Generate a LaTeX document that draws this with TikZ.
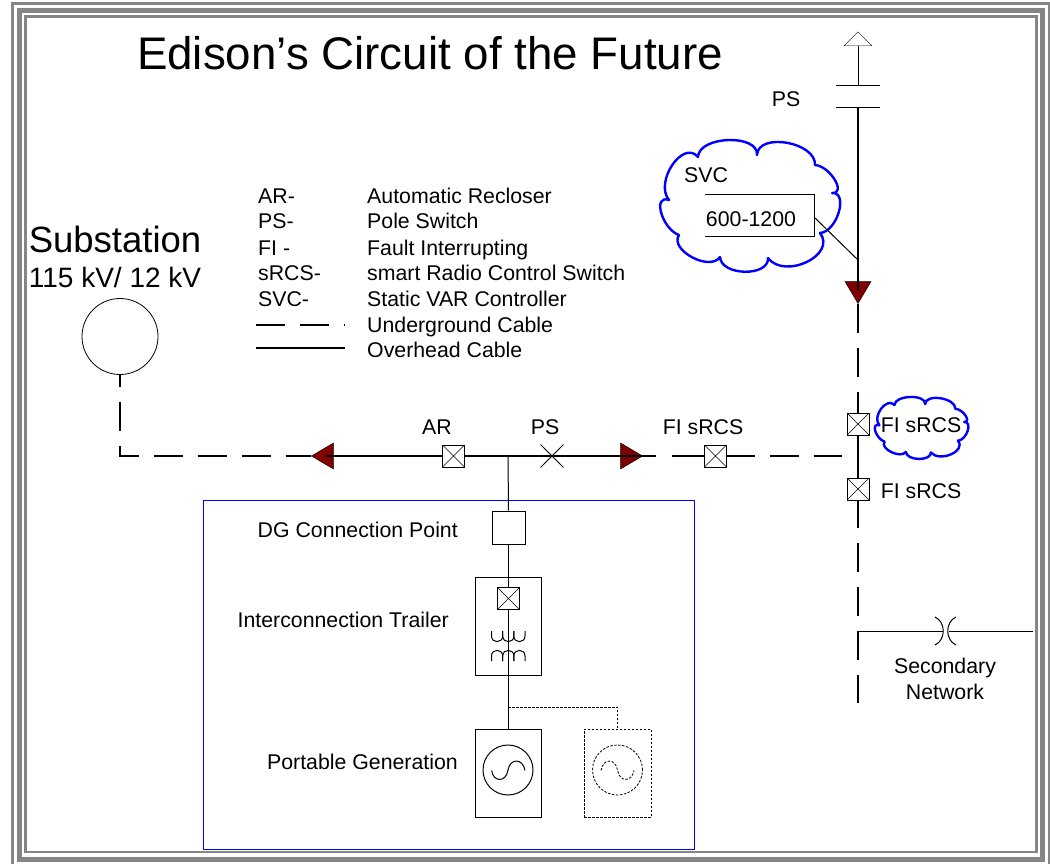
\documentclass[tikz,border=0pt]{standalone}
\usepackage{fontspec}
\setmainfont{Liberation Sans}
\usetikzlibrary{shapes.geometric,shapes.misc}

\definecolor{framegray}{HTML}{858585}
\definecolor{tipred}{HTML}{7F0000}

\tikzset{
  label20/.style={inner sep=0pt, font=\fontsize{21.3}{21.3}\selectfont},
  hvcable/.style={line width=2pt},
  ugcable/.style={line width=2pt, dash pattern=on 29pt off 15pt},
  thincable/.style={line width=1pt},
  xbox/.style={draw, thick, fill=white, minimum size=22pt, inner sep=0pt,
    path picture={
      \draw [thin] (path picture bounding box.north west) -- (path picture bounding box.south east);
      \draw [thin] (path picture bounding box.north east) -- (path picture bounding box.south west);
    }},
  plainbox/.style={draw, line width=1pt, fill=white, inner sep=0pt},
  redtip/.style={isosceles triangle, isosceles triangle apex angle=61, isosceles triangle stretches,
    draw=black, fill=tipred, inner sep=0pt, minimum height=22pt, minimum width=26pt},
  dashline/.style={line width=.8pt, dash pattern=on 2.5pt off 1.5pt},
  pics/bluecloud/.style={code={
    \draw [blue, line width=2.4pt, fill=white, line join=round]
      (-52,-49) .. controls (-51.3,-70.3) and (8.7,-72.3) .. (7,-51)
      .. controls (8,-74) and (66,-64) .. (65,-41)
      .. controls (80,-40) and (97,-12) .. (82,-13)
      .. controls (99,-14) and (87,26) .. (70,27)
      .. controls (87,49) and (35,74) .. (18,52)
      .. controls (19,71) and (-29,70) .. (-30,51)
      .. controls (-40,66) and (-81,44) .. (-71,29)
      .. controls (-88,23) and (-98,-12) .. (-81,-6)
      .. controls (-96,-24) and (-67,-67) .. (-52,-49) -- cycle;
  }},
}

\begin{document}
\begin{tikzpicture}[x=1pt, y=-1pt]
  \useasboundingbox (0,0) rectangle (1050,864);

  % frame
  \draw [framegray, line width=3pt] (12.5,864) -- (12.5,4) -- (1049.5,4) -- (1049.5,864);
  \draw [framegray, line width=5pt] (19.5,859) rectangle (1042.5,10.5);
  \draw [framegray, line width=2.6pt] (25.5,852) rectangle (1036.5,16.5);

  \node [font=\fontsize{45.7}{45.7}\selectfont, inner sep=0pt] (title) at (430,53) {Edison’s Circuit of the Future};

  % legend
  \foreach \tag/\y/\abbr/\desc in {ar/204/AR-/Automatic Recloser, ps/229/PS-/Pole Switch,
      fi/255/FI -/Fault Interrupting, srcs/280/sRCS-/smart Radio Control Switch, svc/306/SVC-/Static VAR Controller} {
    \node [label20, anchor=base west] (key\tag)  at (258,\y) {\abbr};
    \node [label20, anchor=base west] (text\tag) at (367,\y) {\desc};
  }
  \node [label20, anchor=base west] (textug) at (367,332) {Underground Cable};
  \node [label20, anchor=base west] (textoh) at (367,357) {Overhead Cable};
  \coordinate (ugleft)  at (256,325);
  \coordinate (ugright) at (345,325);
  \coordinate (ohleft)  at (256,348);
  \coordinate (ohright) at (345,348);
  \draw [line width=1.2pt, dash pattern=on 29pt off 15pt] (ugleft) -- (ugright);
  \draw [line width=1.2pt] (ohleft) -- (ohright);

  % substation
  \node [font=\fontsize{36.5}{36.5}\selectfont, inner sep=0pt] (subname) at (115,239) {Substation};
  \node [font=\fontsize{28}{28}\selectfont, inner sep=0pt] (subkv)   at (115,277) {115 kV/ 12 kV};
  \node [circle, draw, thick, minimum size=76pt, inner sep=0pt] (sub) at (120,336.5) {};
  \coordinate (corner) at (120,456);

  % feeder
  \node [redtip, shape border rotate=180] (tipw) at (326,456) {};
  \node [redtip] (tipe) at (628,456) {};
  \node [redtip, shape border rotate=-90] (tips) at (858,289) {};
  \coordinate (tipwin)  at (326,456);
  \coordinate (tipeout) at (656,456);
  \coordinate (dashe)   at (672,456);
  \coordinate (dashend) at (842,456);
  \coordinate (tee)     at (508,456);

  \draw [ugcable, dash phase=17pt] (sub.south) -- (corner) -- (tipw.apex);
  \draw [hvcable] (tipwin) -- (tipeout);
  \node [xbox] (ar) at (453.5,456) {};
  \node [cross out, draw, thick, minimum size=22pt, inner sep=0pt] (pssw) at (552,456) {};
  \node [xbox] (fih) at (715.5,456) {};
  \draw [hvcable] (dashe) -- (fih.west);
  \draw [ugcable, dash phase=1pt] (fih.east) -- (dashend);

  \node [label20] (arlabel) at (437,427) {AR};
  \node [label20] (pslabel) at (545,427) {PS};
  \node [label20] (fihlabel) at (703,427) {FI sRCS};

  % vertical feeder
  \node [isosceles triangle, isosceles triangle apex angle=94, isosceles triangle stretches, draw, fill=white,
    inner sep=0pt, minimum height=14pt, minimum width=28pt, shape border rotate=90] (top) at (858,40) {};
  \coordinate (psupl) at (836,86);
  \coordinate (psupr) at (880,86);
  \coordinate (psupm) at (858,86);
  \coordinate (pslol) at (836,108);
  \coordinate (pslor) at (880,108);
  \coordinate (pslom) at (858,108);
  \coordinate (tapsvc) at (858,260);
  \coordinate (tipsin) at (858,290);
  \coordinate (fvend) at (858,703);
  \draw [thincable] (top.south) -- (psupm);
  \draw [thincable] (psupl) -- (psupr);
  \draw [thincable] (pslol) -- (pslor);
  \draw [hvcable] (pslom) -- (tipsin);
  \node [label20] (pslabel2) at (786,99) {PS};

  \pic at (750,206) {bluecloud};
  \node [label20] (svclabel) at (706,175) {SVC};
  \node [label20] (svcvalue) at (751,219) {600-1200};
  \coordinate (svca) at (705,195);
  \coordinate (svcb) at (814,195);
  \coordinate (svcc) at (814,236.5);
  \coordinate (svcd) at (705,236.5);
  \coordinate (svce) at (814,217);
  \draw [thincable] (svca) -- (svcb) -- (svcc) -- (svcd);
  \draw [thincable] (svce) -- (tapsvc);

  \node [xbox] (fiv) at (858,424) {};
  \node [xbox] (fis) at (858,489) {};
  \draw [ugcable, dash phase=0pt] (tips.apex) -- (fiv.north);
  \draw [hvcable] (fiv.south) -- (fis.north);
  \draw [ugcable, dash phase=1pt] (fis.south) -- (fvend);
  \pic [xscale=.52, yscale=.47] at (921.5,428) {bluecloud};
  \node [label20] (fivlabel) at (921,425) {FI sRCS};
  \node [label20] (fislabel) at (921,491) {FI sRCS};

  % secondary
  \coordinate (secstart) at (858,631);
  \coordinate (secl) at (943,631);
  \coordinate (secr) at (948.5,631);
  \coordinate (secend) at (1033,631);
  \draw [thincable] (secstart) -- (secl);
  \draw [thincable] (secr) -- (secend);
  \draw [thincable] (935,617) .. controls (946,622) and (946,640) .. (935,645);
  \draw [thincable] (956,617) .. controls (945,622) and (945,640) .. (956,645);
  \node [label20, align=center] (seclabel) at (945,679) {Secondary\\[5pt]Network};

  % generation
  \draw [blue, line width=1pt] (203,500) rectangle (694,849.5);
  \node [plainbox, minimum size=33pt] (dg) at (508.5,527.5) {};
  \node [plainbox, minimum width=65.5pt, minimum height=98pt] (trailer) at (508.5,626) {};
  \node [xbox] (trailersw) at (508.5,598.5) {};
  \node [plainbox, minimum width=65.5pt, minimum height=88pt] (gen) at (508.5,773) {};
  \node [plainbox, dashline, minimum width=67pt, minimum height=88pt] (genb) at (617.5,773) {};
  \coordinate (dgtee) at (508,707);
  \coordinate (genbup) at (617.5,707);
  \draw [thincable] (tee) -- (dg.north);
  \draw [thincable] (dg.south) -- (trailer.north);
  \draw [thincable] (trailer.north) -- (trailersw.north);
  \draw [thincable] (trailersw.south) -- (gen.north);
  \draw [dashline] (dgtee) -- (genbup) -- (genb.north);

  \foreach \x in {491.5,502.7,513.8} {
    \draw [thincable] (\x,631) -- (\x,636) .. controls (\x,643.5) and (\x+11.2,643.5) .. (\x+11.2,636) -- (\x+11.2,631);
    \draw [thincable] (\x,661) -- (\x,656) .. controls (\x,648.5) and (\x+11.2,648.5) .. (\x+11.2,656) -- (\x+11.2,661);
  }

  \node [circle, draw, line width=1pt, minimum size=50pt, inner sep=0pt] (genc) at (508,770) {};
  \node [circle, draw, dashline, minimum size=50pt, inner sep=0pt] (genbc) at (617.5,770) {};
  \draw [thincable] (491.7,770.5) .. controls (493,782) and (506,783) .. (508,770) .. controls (510,758) and (523,758) .. (525,770.5);
  \draw [dashline] (601,770.5) .. controls (603,758) and (615.5,758) .. (617.5,770) .. controls (619.5,783) and (632,782) .. (634,770.5);

  \node [label20, anchor=east] (dglabel)  at (458,530) {DG Connection Point};
  \node [label20, anchor=east] (trlabel)  at (449,620) {Interconnection Trailer};
  \node [label20, anchor=east] (genlabel) at (458,762) {Portable Generation};
\end{tikzpicture}
\end{document}
